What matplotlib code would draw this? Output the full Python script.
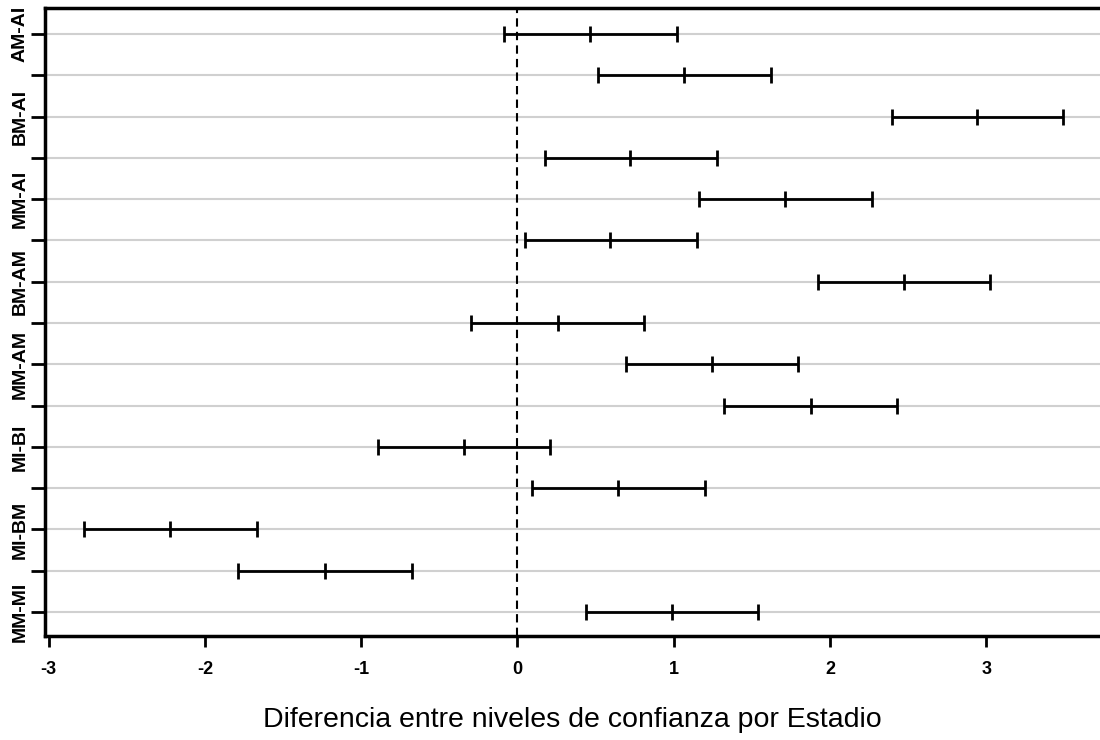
import matplotlib
matplotlib.use("Agg")
import matplotlib.pyplot as plt
import numpy as np

# Pairwise comparisons (top to bottom): lower bound, estimate, upper bound
comparisons = ["AM-AI", "", "BM-AI", "", "MM-AI", "", "BM-AM", "",
               "MM-AM", "", "MI-BI", "", "MI-BM", "", "MM-MI"]
lower = [-0.085, 0.513, 2.394, 0.174, 1.161, 0.048, 1.923, -0.299,
         0.694, 1.321, -0.894, 0.091, -2.773, -1.786, 0.439]
estimate = [0.464, 1.065, 2.939, 0.722, 1.711, 0.592, 2.472, 0.258,
            1.244, 1.876, -0.342, 0.641, -2.224, -1.233, 0.988]
upper = [1.020, 1.620, 3.492, 1.276, 2.268, 1.148, 3.026, 0.810,
         1.795, 2.430, 0.208, 1.200, -1.669, -0.675, 1.538]
x_ticks = [-3, -2, -1, 0, 1, 2, 3]
x_title = "Diferencia entre niveles de confianza por Estadio"

tick_font = ["Liberation Sans Narrow", "Liberation Sans", "DejaVu Sans"]
label_font = ["Liberation Sans", "DejaVu Sans"]

fig = plt.figure(figsize=(11, 7.4), dpi=100)
ax = fig.add_axes([45 / 1100, 1 - 636 / 740, 1 - 45 / 1100, (636 - 8) / 740])

rows = np.arange(1, len(estimate) + 1)
est = np.array(estimate)
lo = est - np.array(lower)
hi = np.array(upper) - est

for r in rows:
    ax.axhline(r, color="#d0d0d0", lw=1.5, zorder=0)

ax.axvline(0, color="black", lw=1.5, ls=(0, (4, 2.5)), zorder=1)

ax.errorbar(est, rows, xerr=[lo, hi], fmt="none", ecolor="black",
            elinewidth=2, capsize=6, capthick=2, zorder=3)
ax.plot(est, rows, ls="none", marker="|", markersize=12, mew=2,
        color="black", zorder=4)

ax.set_xlim(-3.023, 3.727)
ax.set_ylim(15.58, 0.37)

ax.set_yticks(rows)
ax.set_yticklabels(comparisons, rotation=90, va="center",
                   fontfamily=tick_font, fontweight="bold", fontsize=14)
ax.set_xticks(x_ticks)
ax.set_xticklabels([str(v) for v in x_ticks], fontfamily=tick_font,
                   fontweight="bold", fontsize=13)

ax.tick_params(axis="y", length=10, width=2, pad=2)
ax.tick_params(axis="x", length=8, width=2, pad=10)

for side in ("left", "top", "bottom"):
    ax.spines[side].set_linewidth(2.5)
ax.spines["right"].set_visible(False)

ax.set_xlabel(x_title, fontfamily=label_font, fontsize=20.5, labelpad=21)

fig.savefig("out.png", dpi=100, facecolor="white")
